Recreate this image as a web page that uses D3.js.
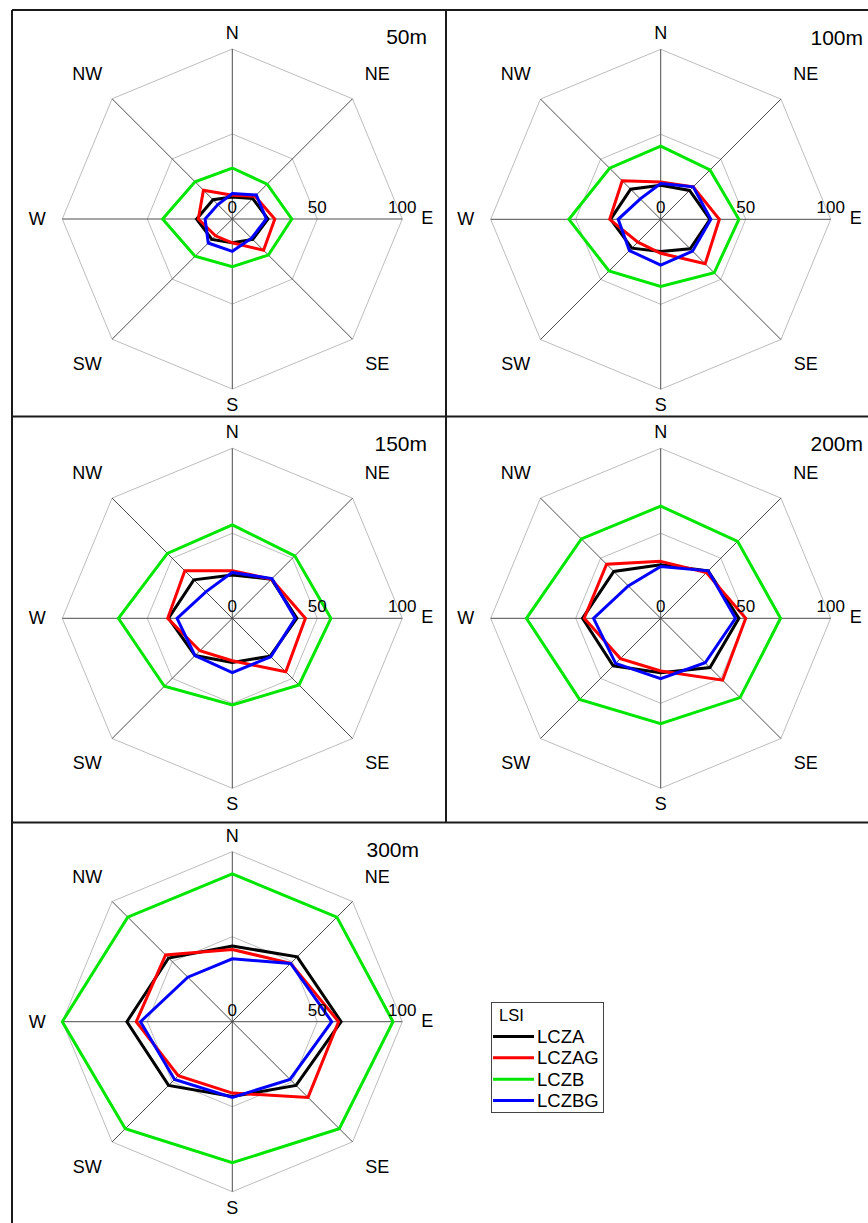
<!DOCTYPE html>
<html>
<head>
<meta charset="utf-8">
<script src="https://cdn.jsdelivr.net/npm/d3@7"></script>
<style>
  html, body { margin: 0; padding: 0; background: #fff; }
  svg { display: block; font-family: "Liberation Sans", Arial, sans-serif; }
</style>
</head>
<body>
<svg id="chart" width="868" height="1223"></svg>
<script>
// Compass sectors, clockwise from north
const directions = ["N", "NE", "E", "SE", "S", "SW", "W", "NW"];
// Buffer distances, one radar per distance
const bufferSizes = ["50m", "100m", "150m", "200m", "300m"];
const seriesNames = ["LCZA", "LCZAG", "LCZB", "LCZBG"];
const seriesColors = ["#000000", "#ff0000", "#00e600", "#0000ff"];
const tickValues = [0, 50, 100];
const ringValues = [50, 100];
const legendTitle = "LSI";

// LSI per sector (N, NE, E, SE, S, SW, W, NW), one row per buffer distance
const lczA = [
  [13, 17, 21, 17, 14, 17, 21, 16],
  [20, 24, 29, 24.5, 19, 24, 29.5, 25],
  [25.5, 32.5, 38, 31.5, 26, 31, 37.5, 32],
  [31.5, 39.5, 46, 41, 32, 39.5, 46, 39],
  [44.5, 54, 64, 53, 44, 53, 62, 53]
];
const lczAG = [
  [14, 19, 25, 26, 14, 14, 20, 24],
  [22, 27, 34.5, 37, 20, 19, 30, 32],
  [28, 32.5, 43, 44.5, 25, 27, 38, 39.5],
  [33.5, 38, 50, 51.5, 31, 33.5, 45, 45],
  [42.5, 48.5, 62.5, 63, 42, 45, 56.5, 55.5]
];
const lczB = [
  [30, 29, 35, 30, 28, 31, 41, 31],
  [43, 41, 46, 44.5, 39.5, 43, 54, 42.5],
  [55, 52, 58, 55.5, 51, 56.5, 67, 54],
  [66, 64, 70.5, 66, 62, 67.5, 79, 66],
  [87, 87, 94.5, 89, 83, 89, 100, 87]
];
const lczBG = [
  [15, 20, 20, 16, 19, 20, 16, 12],
  [21, 27, 29.5, 26.5, 27, 26, 25, 17],
  [27, 33, 37, 32, 32, 31, 32.5, 22],
  [30.5, 39.5, 44, 37, 35.5, 37.5, 39.5, 27],
  [37, 48.5, 58.5, 48, 44.5, 48, 54, 37]
];
const seriesData = [lczA, lczAG, lczB, lczBG];

const svg = d3.select("#chart");
svg.append("rect").attr("width", 868).attr("height", 1223).attr("fill", "#fff");

// Panel frame lines
const frame = svg.append("g").attr("stroke", "#1a1a1a").attr("stroke-width", 2).attr("fill", "none");
frame.append("line").attr("x1", 12).attr("y1", 10).attr("x2", 868).attr("y2", 10);
frame.append("line").attr("x1", 12).attr("y1", 416.5).attr("x2", 868).attr("y2", 416.5);
frame.append("line").attr("x1", 12).attr("y1", 822.5).attr("x2", 868).attr("y2", 822.5);
frame.append("line").attr("x1", 12).attr("y1", 10).attr("x2", 12).attr("y2", 1223);
frame.append("line").attr("x1", 446).attr("y1", 10).attr("x2", 446).attr("y2", 822.5);

// Radar centres and title anchors
const layout = [
  { cx: 232.3, cy: 219,    tx: 427, ty: 44 },
  { cx: 660.7, cy: 219.3,  tx: 863, ty: 45 },
  { cx: 232.3, cy: 618.3,  tx: 427, ty: 451 },
  { cx: 660.7, cy: 618.3,  tx: 863, ty: 451 },
  { cx: 232.3, cy: 1021.7, tx: 419, ty: 857 }
];

const r = d3.scaleLinear().domain([0, 100]).range([0, 170]);
const angle = i => i * Math.PI / 4;
const radial = d3.lineRadial()
  .angle((d, i) => angle(i))
  .radius(d => r(d))
  .curve(d3.curveLinearClosed);
const labelDist = i => i % 2 ? 205 : (i % 4 === 0 ? 186 : 195);

bufferSizes.forEach((name, p) => {
  const L = layout[p];
  const g = svg.append("g").attr("transform", `translate(${L.cx},${L.cy})`);

  // Rings
  g.selectAll("path.ring").data(ringValues).join("path")
    .attr("class", "ring")
    .attr("d", v => radial(directions.map(() => v)))
    .attr("fill", "none")
    .attr("stroke", "#bdbdbd")
    .attr("stroke-width", 1);

  // Spokes
  g.selectAll("line.spoke").data(directions).join("line")
    .attr("class", "spoke")
    .attr("x1", 0).attr("y1", 0)
    .attr("x2", (d, i) => r(100) * Math.sin(angle(i)))
    .attr("y2", (d, i) => -r(100) * Math.cos(angle(i)))
    .attr("stroke", "#4d4d4d")
    .attr("stroke-width", 1);

  // Series polygons
  seriesData.forEach((s, k) => {
    g.append("path")
      .attr("d", radial(s[p]))
      .attr("fill", "none")
      .attr("stroke", seriesColors[k])
      .attr("stroke-width", 3)
      .attr("stroke-linejoin", "miter");
  });

  // Radial tick labels along the east axis
  g.selectAll("text.tick").data(tickValues).join("text")
    .attr("class", "tick")
    .attr("x", v => r(v))
    .attr("y", -6)
    .attr("text-anchor", "middle")
    .attr("font-size", 17)
    .attr("fill", "#000")
    .text(v => v);

  // Direction labels
  g.selectAll("text.dir").data(directions).join("text")
    .attr("class", "dir")
    .attr("x", (d, i) => labelDist(i) * Math.sin(angle(i)))
    .attr("y", (d, i) => -labelDist(i) * Math.cos(angle(i)) + (d === "E" ? -1 : 0))
    .attr("text-anchor", "middle")
    .attr("dominant-baseline", "central")
    .attr("font-size", 18)
    .attr("fill", "#000")
    .text(d => d);

  // Buffer distance title
  svg.append("text")
    .attr("x", L.tx).attr("y", L.ty)
    .attr("text-anchor", "end")
    .attr("font-size", 21)
    .attr("fill", "#000")
    .text(name);
});

// Legend
const lg = svg.append("g");
lg.append("rect")
  .attr("x", 491.5).attr("y", 1002.5).attr("width", 112).attr("height", 110)
  .attr("fill", "#fff").attr("stroke", "#444").attr("stroke-width", 1);
lg.append("text")
  .attr("x", 499).attr("y", 1021)
  .attr("font-size", 16.5).attr("fill", "#000")
  .text(legendTitle);
const ly = d3.scalePoint().domain(seriesNames).range([1036.5, 1100.5]);
seriesNames.forEach((n, k) => {
  lg.append("line")
    .attr("x1", 493).attr("x2", 534)
    .attr("y1", ly(n)).attr("y2", ly(n))
    .attr("stroke", seriesColors[k]).attr("stroke-width", 3);
  lg.append("text")
    .attr("x", 537).attr("y", ly(n))
    .attr("dominant-baseline", "central")
    .attr("font-size", 18.5).attr("fill", "#000")
    .text(n);
});
</script>
</body>
</html>
